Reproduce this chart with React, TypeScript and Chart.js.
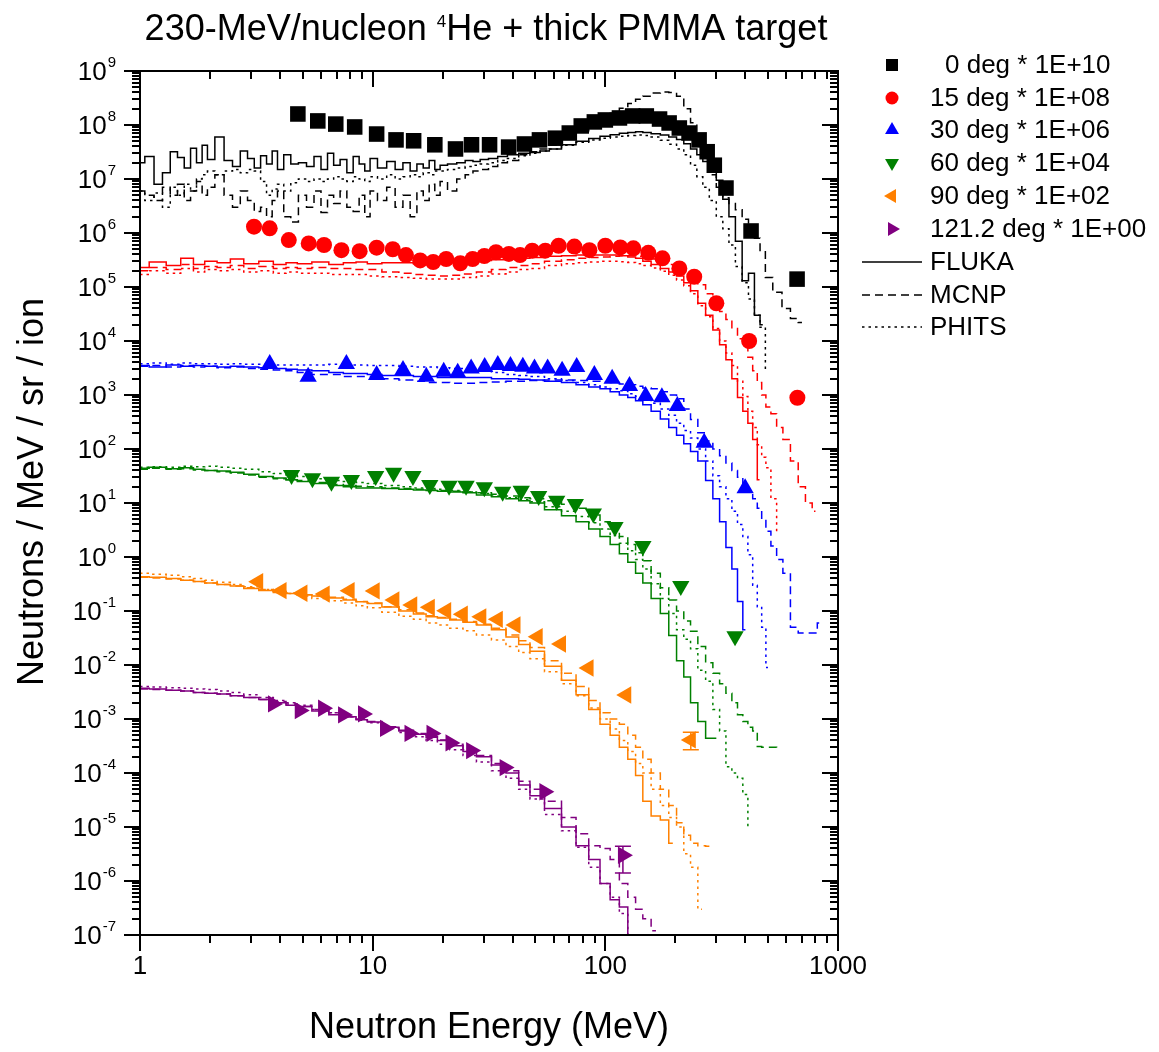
import React, { useEffect, useRef } from 'react';
import { Chart, registerables } from 'chart.js';

Chart.register(...registerables);

const W = 1159;
const H = 1052;
const FONT = '"Liberation Sans", Arial, Helvetica, sans-serif';

// ---------- axes ----------
const X_MIN = 1;
const X_MAX = 1000;
const Y_MIN = 1e-7;
const Y_MAX = 1e9;
const xTickValues = [1, 10, 100, 1000];
const xTickLabels = ['1', '10', '100', '1000'];
const yExponents = [9, 8, 7, 6, 5, 4, 3, 2, 1, 0, -1, -2, -3, -4, -5, -6, -7];

// ---------- legend / series meta ----------
const angleLabels = ['  0 deg * 1E+10', '15 deg * 1E+08', '30 deg * 1E+06', '60 deg * 1E+04', '90 deg * 1E+02', '121.2 deg * 1E+00'];
const angleColors = ['#000000', '#FF0000', '#0000FF', '#008000', '#FF8000', '#800080'];
const angleMarkers = ['rect', 'circle', 'triangle', 'triangle', 'triangle', 'triangle'];
const angleRotations = [0, 0, 0, 180, 270, 90];
const codeLabels = ['FLUKA', 'MCNP', 'PHITS'];
const codeDashes = [[], [8, 5], [2.5, 4]];

// ---------- experimental data ----------
const exp0E = [4.77, 5.81, 6.94, 8.37, 10.4, 12.6, 15.0, 18.5, 22.7, 26.6, 31.8, 38.4, 44.9, 52.1, 61.0, 70.0, 78.8, 89.7, 100, 115, 131, 150, 171, 188, 208, 229, 253, 274, 294, 330, 423, 667];
const exp0V = [1.6e8, 1.19e8, 1.04e8, 9.2e7, 6.8e7, 5.3e7, 5.1e7, 4.3e7, 3.6e7, 4.3e7, 4.3e7, 3.9e7, 4.45e7, 5.3e7, 5.7e7, 7.1e7, 9.6e7, 1.14e8, 1.24e8, 1.35e8, 1.47e8, 1.47e8, 1.29e8, 1.09e8, 8.8e7, 7.1e7, 5.3e7, 3.2e7, 1.8e7, 6.8e6, 1.09e6, 1.4e5];

const exp15E = [3.09, 3.61, 4.36, 5.31, 6.18, 7.34, 8.79, 10.4, 12.2, 13.9, 16.0, 18.2, 20.7, 23.8, 26.9, 30.2, 33.9, 38.5, 43.0, 48.5, 55.2, 63.0, 73.6, 85.4, 100, 116, 132, 153, 176, 208, 241, 300, 415, 669];
const exp15V = [1.31e6, 1.22e6, 7.4e5, 6.4e5, 6.0e5, 4.8e5, 4.6e5, 5.35e5, 5.0e5, 3.9e5, 3.1e5, 2.9e5, 3.3e5, 2.75e5, 3.3e5, 3.75e5, 4.4e5, 4.1e5, 3.9e5, 4.7e5, 4.7e5, 5.8e5, 5.6e5, 4.8e5, 5.8e5, 5.4e5, 5.2e5, 4.3e5, 3.4e5, 2.2e5, 1.55e5, 5.0e4, 1.0e4, 890];

const exp30E = [3.61, 5.28, 7.71, 10.4, 13.5, 17.0, 20.2, 23.2, 26.5, 30.3, 34.5, 39.1, 44.2, 49.6, 56.5, 65.2, 75.3, 89.7, 107, 127, 149, 175, 204, 266, 399];
const exp30V = [3.75e3, 2.18e3, 3.75e3, 2.35e3, 2.9e3, 2.18e3, 2.7e3, 2.59e3, 3.1e3, 3.3e3, 3.6e3, 3.45e3, 3.35e3, 3.1e3, 3.1e3, 2.8e3, 3.3e3, 2.35e3, 2.0e3, 1.47e3, 960, 906, 625, 131, 18.7];

const exp60E = [4.48, 5.51, 6.65, 8.10, 10.3, 12.3, 14.9, 17.6, 21.3, 25.2, 30.2, 36.2, 43.5, 51.7, 61.8, 74.3, 88.8, 110, 145, 211, 361];
const exp60V = [33, 28.7, 24.8, 26.6, 31.6, 36.4, 31.6, 21.5, 20.9, 20.9, 19.5, 16.2, 16.9, 13.5, 11.0, 9.6, 6.4, 3.6, 1.6, 0.29, 0.034];

const exp90E = [3.22, 4.06, 4.99, 6.22, 7.96, 10.2, 12.4, 14.8, 17.6, 20.7, 24.4, 29.3, 34.5, 41.1, 51.2, 64.5, 84.7, 123, 233];
const exp90V = [0.349, 0.238, 0.213, 0.206, 0.238, 0.235, 0.160, 0.129, 0.117, 0.101, 0.087, 0.078, 0.070, 0.055, 0.0334, 0.0245, 0.0088, 0.00278, 0.00041];

const exp121E = [3.73, 4.86, 6.12, 7.46, 9.09, 11.3, 14.4, 17.9, 21.6, 26.5, 36.9, 54.7, 119];
const exp121V = [0.0019, 0.00143, 0.00158, 0.00119, 0.00124, 0.00067, 0.00054, 0.00054, 0.00036, 0.00026, 0.000126, 0.000045, 0.0000030];

// visible error bars
const errE = [233, 119];
const errLo = [2.7e-4, 1.4e-6];
const errHi = [5.7e-4, 4.4e-6];
const errColor = ['#FF8000', '#800080'];

// ---------- simulation histograms ----------
const G0 = [1, 1.1, 1.2, 1.3, 1.4, 1.5, 1.6, 1.7, 1.8, 1.9, 2, 2.2, 2.4, 2.6, 2.8, 3, 3.2, 3.4, 3.6, 3.8, 4, 4.3, 4.6, 5, 5.4, 5.8, 6.2, 6.6, 7, 7.5, 8, 8.5, 9, 9.5, 10, 11, 12, 13, 14, 15, 16, 17, 18, 19, 20, 22, 24, 26, 28, 30, 33, 36, 40, 45, 50, 55, 60, 70, 80, 90, 100, 110, 120, 130, 140, 150, 165, 180, 195, 210, 225, 240, 255, 270, 290, 310, 330, 350, 375, 400, 425, 450, 475, 500, 550, 600, 650, 700];

const fluka0 = [2.0e7, 2.6e7, 8e6, 1.3e7, 3.2e7, 2.5e7, 1.6e7, 3.7e7, 2.0e7, 4.2e7, 2.3e7, 6.0e7, 2.2e7, 1.7e7, 3.3e7, 2.4e7, 1.6e7, 2.7e7, 1.9e7, 3.3e7, 1.5e7, 2.8e7, 1.9e7, 2.0e7, 1.7e7, 2.6e7, 1.5e7, 3.0e7, 1.8e7, 2.3e7, 1.3e7, 2.6e7, 1.9e7, 1.4e7, 2.4e7, 1.6e7, 2.1e7, 1.5e7, 2.0e7, 1.4e7, 1.9e7, 1.6e7, 2.2e7, 1.5e7, 1.8e7, 1.9e7, 2.0e7, 2.2e7, 2.1e7, 2.3e7, 2.4e7, 2.6e7, 2.8e7, 3.0e7, 3.1e7, 3.3e7, 3.6e7, 4.3e7, 5.0e7, 5.6e7, 6.2e7, 6.6e7, 7.0e7, 7.3e7, 7.5e7, 7.3e7, 6.9e7, 6.5e7, 6.0e7, 5.4e7, 4.5e7, 3.6e7, 2.8e7, 2.1e7, 1.4e7, 9.5e6, 4.2e6, 2.0e6, 7e5, 1.3e5, 1.8e5, 3.0e4, 2.0e4];
const mcnp0 = [6e6, 5e6, 4e6, 7e6, 5e6, 8e6, 4e6, 6e6, 9e6, 5e6, 7e6, 1.2e7, 5e6, 3e6, 6e6, 4e6, 2.5e6, 3e6, 2e6, 4e6, 6e6, 2e6, 1.6e6, 5e6, 3e6, 6e6, 2.4e6, 5e6, 3.5e6, 6e6, 3e6, 2.5e6, 5e6, 2e6, 6e6, 4e6, 7e6, 3e6, 5e6, 2e6, 6e6, 4e6, 8e6, 5e6, 9e6, 6e6, 1.0e7, 1.2e7, 1.4e7, 1.5e7, 1.7e7, 2.0e7, 2.2e7, 2.8e7, 3.2e7, 3.6e7, 4.2e7, 5.8e7, 7.8e7, 1.0e8, 1.3e8, 1.65e8, 2.05e8, 2.5e8, 3.0e8, 3.4e8, 3.9e8, 4.1e8, 4.0e8, 3.4e8, 2.0e8, 1.1e8, 5.5e7, 2.6e7, 1.2e7, 7e6, 4.5e6, 3.5e6, 2.7e6, 1.8e6, 1.2e6, 8e5, 4.5e5, 1.5e5, 8e4, 4e4, 2.6e4, 2.2e4];
const phits0 = [6e6, 4e6, 5.5e6, 3e6, 7e6, 5e6, 8e6, 6e6, 1.0e7, 1.2e7, 1.4e7, 1.2e7, 1.4e7, 1.5e7, 1.3e7, 1.5e7, 1.4e7, 9e6, 5e6, 6.5e6, 8e6, 6e6, 8.5e6, 1.0e7, 9e6, 1.0e7, 9e6, 1.0e7, 1.1e7, 1.0e7, 9e6, 1.1e7, 1.0e7, 9e6, 1.1e7, 1.0e7, 1.2e7, 1.0e7, 1.1e7, 1.2e7, 1.1e7, 1.3e7, 1.2e7, 1.4e7, 1.4e7, 1.5e7, 1.6e7, 1.7e7, 1.8e7, 1.9e7, 2.0e7, 2.2e7, 2.4e7, 2.7e7, 3.0e7, 3.3e7, 3.6e7, 4.2e7, 4.8e7, 5.3e7, 5.7e7, 6.0e7, 6.2e7, 6.4e7, 6.5e7, 6.4e7, 6.0e7, 5.2e7, 4.4e7, 3.6e7, 2.8e7, 1.8e7, 1.1e7, 7e6, 4e6, 2e6, 1.2e6, 6e5, 2.4e5, 1.2e5, 6e4, 3e4, 1.8e4, 3e3];

const G = [1, 1.2, 1.4, 1.6, 1.8, 2, 2.3, 2.6, 3, 3.5, 4, 4.5, 5, 6, 7, 8, 9, 10, 12, 14, 16, 18, 20, 23, 26, 30, 35, 40, 45, 50, 60, 70, 80, 90, 100, 110, 120, 130, 140, 150, 165, 180, 195, 210, 225, 240, 260, 280, 300, 320, 340, 360, 380, 400, 420, 440, 460, 480, 500, 530, 560, 600, 650, 700, 750, 800, 830];

const fluka15 = [2.3e5, 2.9e5, 2.5e5, 3.4e5, 2.6e5, 3.0e5, 2.8e5, 3.3e5, 2.7e5, 3.0e5, 2.6e5, 2.8e5, 2.7e5, 2.9e5, 2.6e5, 2.8e5, 2.9e5, 2.7e5, 2.8e5, 2.8e5, 2.7e5, 2.8e5, 2.9e5, 2.9e5, 3.0e5, 3.1e5, 3.2e5, 3.3e5, 3.4e5, 3.5e5, 3.7e5, 3.8e5, 3.9e5, 3.9e5, 3.9e5, 3.9e5, 3.8e5, 3.6e5, 3.4e5, 3.0e5, 2.6e5, 2.2e5, 1.9e5, 1.6e5, 1.2e5, 8.5e4, 5e4, 3e4, 1.6e4, 8.5e3, 4.5e3, 2e3, 900, 500, 300, 150, 27];
const mcnp15 = [2.0e5, 2.3e5, 2.1e5, 2.6e5, 2.2e5, 2.4e5, 2.3e5, 2.5e5, 2.2e5, 2.4e5, 2.2e5, 2.3e5, 2.2e5, 2.3e5, 2.2e5, 2.2e5, 2.1e5, 2.1e5, 1.9e5, 1.8e5, 1.7e5, 1.65e5, 1.6e5, 1.65e5, 1.75e5, 1.9e5, 2.1e5, 2.3e5, 2.5e5, 2.7e5, 3.0e5, 3.2e5, 3.4e5, 3.5e5, 3.6e5, 3.7e5, 3.8e5, 3.8e5, 3.7e5, 3.6e5, 3.3e5, 3.0e5, 2.6e5, 2.3e5, 1.9e5, 1.5e5, 1.1e5, 7.5e4, 5e4, 3.5e4, 2.5e4, 1.7e4, 1.1e4, 8e3, 5e3, 2.8e3, 1.7e3, 1e3, 600, 450, 250, 150, 60, 20, 10, 7];
const phits15 = [1.7e5, 2.0e5, 1.8e5, 2.2e5, 1.9e5, 2.1e5, 2.0e5, 2.1e5, 1.9e5, 2.0e5, 1.8e5, 1.9e5, 1.8e5, 1.8e5, 1.7e5, 1.7e5, 1.7e5, 1.6e5, 1.55e5, 1.5e5, 1.45e5, 1.4e5, 1.4e5, 1.4e5, 1.5e5, 1.6e5, 1.75e5, 1.9e5, 2.1e5, 2.2e5, 2.5e5, 2.7e5, 2.8e5, 2.9e5, 3.0e5, 3.0e5, 2.95e5, 2.85e5, 2.7e5, 2.5e5, 2.25e5, 1.95e5, 1.65e5, 1.35e5, 1.05e5, 7.5e4, 4.5e4, 2.8e4, 1.7e4, 1e4, 6e3, 3.5e3, 1.8e3, 940, 500, 250, 120, 70, 45, 12, 3];

const fluka30 = [3.5e3, 3.3e3, 3.6e3, 3.4e3, 3.5e3, 3.4e3, 3.3e3, 3.4e3, 3.3e3, 3.2e3, 3.1e3, 3.0e3, 2.9e3, 2.8e3, 2.6e3, 2.5e3, 2.5e3, 2.4e3, 2.3e3, 2.3e3, 2.2e3, 2.2e3, 2.1e3, 2.1e3, 2.1e3, 2.1e3, 2.0e3, 2.0e3, 1.95e3, 1.9e3, 1.8e3, 1.7e3, 1.55e3, 1.4e3, 1.3e3, 1.15e3, 1.0e3, 900, 780, 660, 500, 360, 250, 180, 125, 90, 60, 26, 12, 4.5, 1.5, 0.6, 0.15, 0.045];
const mcnp30 = [3.4e3, 3.5e3, 3.3e3, 3.5e3, 3.3e3, 3.4e3, 3.2e3, 3.3e3, 3.1e3, 3.0e3, 2.9e3, 2.8e3, 2.6e3, 2.4e3, 2.4e3, 2.2e3, 2.2e3, 2.2e3, 2.0e3, 1.9e3, 1.8e3, 1.7e3, 1.7e3, 1.65e3, 1.65e3, 1.7e3, 1.75e3, 1.8e3, 1.8e3, 1.85e3, 1.9e3, 1.9e3, 1.85e3, 1.8e3, 1.75e3, 1.7e3, 1.6e3, 1.55e3, 1.45e3, 1.35e3, 1.3e3, 1.15e3, 1.0e3, 850, 550, 350, 200, 140, 100, 75, 55, 40, 30, 20, 16, 12, 8, 5, 3, 1.6, 0.9, 0.5, 0.05, 0.039, 0.039, 0.039, 0.06];
const phits30 = [3.8e3, 3.9e3, 3.7e3, 3.9e3, 3.8e3, 3.8e3, 3.7e3, 3.8e3, 3.7e3, 3.7e3, 3.6e3, 3.6e3, 3.6e3, 3.6e3, 3.7e3, 3.6e3, 3.6e3, 3.5e3, 3.5e3, 3.4e3, 3.3e3, 3.3e3, 3.2e3, 3.1e3, 3.0e3, 2.8e3, 2.6e3, 2.4e3, 2.3e3, 2.2e3, 2.0e3, 1.85e3, 1.7e3, 1.55e3, 1.4e3, 1.3e3, 1.2e3, 1.05e3, 950, 850, 700, 550, 420, 300, 220, 160, 100, 60, 32, 20, 12, 7, 4, 2.4, 1.1, 0.3, 0.12, 0.05, 0.009];

const fluka60 = [44, 46, 43, 45, 42, 40, 39, 37, 34, 31, 29, 27, 25, 23, 21, 20, 19, 19, 18.5, 18, 17.5, 17, 16.5, 16, 15.5, 14, 13, 12, 11, 10, 7.5, 5.8, 4.5, 3.3, 2.4, 1.7, 1.15, 0.8, 0.5, 0.33, 0.17, 0.09, 0.035, 0.012, 0.006, 0.002, 9e-4, 4.4e-4, 4.4e-4];
const mcnp60 = [42, 44, 42, 43, 41, 40, 38, 36, 33, 30, 28, 27, 26, 24, 22, 21, 20.5, 20, 19, 18.5, 18, 17.5, 17, 16.5, 16, 15.5, 14.5, 13.5, 12.5, 12, 11, 9.5, 8, 6, 4.5, 3.3, 2.4, 1.7, 1.2, 0.85, 0.5, 0.27, 0.16, 0.1, 0.065, 0.042, 0.022, 0.011, 0.007, 0.0045, 0.003, 0.002, 0.0012, 9e-4, 7e-4, 6e-4, 3.1e-4, 3e-4, 3e-4, 3e-4, 2.9e-4];
const phits60 = [46, 47, 46, 48, 47, 48, 46, 44, 42, 38, 35, 33, 31, 28, 26, 25, 24, 23, 21, 20, 19, 18.5, 18, 17, 16, 15, 13.5, 12.5, 11.5, 10.5, 8.5, 7, 5.6, 4.3, 3.3, 2.5, 1.8, 1.3, 0.9, 0.6, 0.32, 0.17, 0.09, 0.045, 0.03, 0.02, 0.008, 0.005, 0.0015, 6e-4, 1.3e-4, 1e-4, 8e-5, 4e-5, 1e-5];

const fluka90 = [0.43, 0.42, 0.40, 0.37, 0.35, 0.33, 0.31, 0.29, 0.26, 0.24, 0.22, 0.21, 0.2, 0.19, 0.175, 0.16, 0.148, 0.138, 0.118, 0.1, 0.088, 0.078, 0.074, 0.068, 0.062, 0.055, 0.045, 0.033, 0.024, 0.018, 0.0095, 0.0052, 0.0028, 0.0015, 8e-4, 5e-4, 3e-4, 1.8e-4, 9e-5, 3e-5, 1.6e-5, 1.35e-5, 5e-6];
const mcnp90 = [0.42, 0.41, 0.39, 0.37, 0.35, 0.33, 0.31, 0.29, 0.27, 0.25, 0.23, 0.215, 0.2, 0.19, 0.18, 0.165, 0.15, 0.14, 0.12, 0.105, 0.092, 0.082, 0.076, 0.07, 0.064, 0.057, 0.048, 0.036, 0.028, 0.021, 0.012, 0.007, 0.004, 0.0022, 0.0013, 0.001, 8e-4, 5e-4, 3e-4, 1.8e-4, 1e-4, 5e-5, 2.5e-5, 1.2e-5, 7e-6, 5e-6, 4.5e-6, 4.4e-6];
const phits90 = [0.5, 0.48, 0.46, 0.43, 0.4, 0.37, 0.34, 0.31, 0.28, 0.25, 0.23, 0.21, 0.19, 0.17, 0.155, 0.14, 0.125, 0.115, 0.095, 0.08, 0.07, 0.06, 0.055, 0.048, 0.043, 0.036, 0.029, 0.022, 0.017, 0.013, 0.0075, 0.0045, 0.0027, 0.0016, 0.001, 6.5e-4, 4e-4, 2.5e-4, 1.5e-4, 1e-4, 5e-5, 2.5e-5, 1.5e-5, 1e-5, 3.2e-6, 1.8e-6, 3e-7];

const fluka121 = [3.7e-3, 3.6e-3, 3.4e-3, 3.3e-3, 3.1e-3, 3.0e-3, 2.9e-3, 2.7e-3, 2.5e-3, 2.3e-3, 2.0e-3, 1.8e-3, 1.7e-3, 1.4e-3, 1.2e-3, 1.1e-3, 9.7e-4, 8.8e-4, 7e-4, 6e-4, 5.2e-4, 4.6e-4, 4e-4, 3.2e-4, 2.5e-4, 2e-4, 1.4e-4, 1e-4, 6e-5, 3.8e-5, 2.2e-5, 1e-5, 4.5e-6, 2.5e-6, 9e-7, 4.5e-7, 3.3e-7, 5e-8];
const mcnp121 = [3.6e-3, 3.5e-3, 3.4e-3, 3.3e-3, 3.1e-3, 3.0e-3, 2.9e-3, 2.7e-3, 2.5e-3, 2.3e-3, 2.1e-3, 1.9e-3, 1.7e-3, 1.5e-3, 1.3e-3, 1.1e-3, 1e-3, 9e-4, 7.2e-4, 6.2e-4, 5.4e-4, 4.7e-4, 4.1e-4, 3.4e-4, 2.7e-4, 2.1e-4, 1.5e-4, 1.1e-4, 7e-5, 5e-5, 3e-5, 1.5e-5, 7.5e-6, 4.5e-6, 4e-6, 2.5e-6, 9e-7, 5e-7, 3e-7, 2e-7, 1.2e-7];
const phits121 = [4.0e-3, 3.9e-3, 3.8e-3, 3.7e-3, 3.6e-3, 3.5e-3, 3.3e-3, 3.1e-3, 2.8e-3, 2.5e-3, 2.2e-3, 2.0e-3, 1.8e-3, 1.5e-3, 1.3e-3, 1.1e-3, 9.5e-4, 8.5e-4, 6.8e-4, 5.6e-4, 4.7e-4, 4.0e-4, 3.4e-4, 2.7e-4, 2.1e-4, 1.6e-4, 1.1e-4, 8e-5, 5e-5, 3.3e-5, 1.7e-5, 8.5e-6, 4.2e-6, 1.8e-6, 9e-7, 5e-7, 2.5e-7, 1e-7];

const expE = [exp0E, exp15E, exp30E, exp60E, exp90E, exp121E];
const expV = [exp0V, exp15V, exp30V, exp60V, exp90V, exp121V];
const simGrids = [G0, G, G, G, G, G];
const simValues = [
  [fluka0, mcnp0, phits0],
  [fluka15, mcnp15, phits15],
  [fluka30, mcnp30, phits30],
  [fluka60, mcnp60, phits60],
  [fluka90, mcnp90, phits90],
  [fluka121, mcnp121, phits121],
];

const pts = (xs: number[], ys: number[]) => ys.map((y, i) => ({ x: xs[i], y }));

function markerPath(ctx: CanvasRenderingContext2D, kind: string, x: number, y: number, r: number, rot: number) {
  ctx.beginPath();
  if (kind === 'rect') {
    const s = r * Math.SQRT1_2;
    ctx.rect(x - s, y - s, 2 * s, 2 * s);
  } else if (kind === 'circle') {
    ctx.arc(x, y, r, 0, Math.PI * 2);
  } else {
    let rad = (rot * Math.PI) / 180;
    for (let k = 0; k < 3; k++) {
      const px = x + Math.sin(rad) * r;
      const py = y - Math.cos(rad) * r;
      if (k === 0) ctx.moveTo(px, py);
      else ctx.lineTo(px, py);
      rad += (2 * Math.PI) / 3;
    }
    ctx.closePath();
  }
}

const decorPlugin = {
  id: 'decor',
  beforeDraw(chart: any) {
    const ctx = chart.ctx as CanvasRenderingContext2D;
    ctx.save();
    ctx.fillStyle = '#ffffff';
    ctx.fillRect(0, 0, chart.width, chart.height);
    ctx.restore();
  },
  afterDraw(chart: any) {
    const ctx = chart.ctx as CanvasRenderingContext2D;
    const ca = chart.chartArea;
    const xs = chart.scales.x;
    const ys = chart.scales.y;
    ctx.save();

    // error bars
    ctx.lineWidth = 1.5;
    for (let i = 0; i < errE.length; i++) {
      const px = xs.getPixelForValue(errE[i]);
      const p1 = ys.getPixelForValue(errLo[i]);
      const p2 = ys.getPixelForValue(errHi[i]);
      ctx.strokeStyle = errColor[i];
      ctx.beginPath();
      ctx.moveTo(px, p1); ctx.lineTo(px, p2);
      ctx.moveTo(px - 8, p1); ctx.lineTo(px + 8, p1);
      ctx.moveTo(px - 8, p2); ctx.lineTo(px + 8, p2);
      ctx.stroke();
    }

    // frame
    ctx.strokeStyle = '#000';
    ctx.lineWidth = 2;
    ctx.strokeRect(ca.left, ca.top, ca.right - ca.left, ca.bottom - ca.top);

    // x ticks
    ctx.beginPath();
    for (let d = 1; d <= X_MAX; d *= 10) {
      for (let m = 1; m <= 9; m++) {
        const v = d * m;
        if (v > X_MAX) break;
        const px = Math.round(xs.getPixelForValue(v));
        const len = m === 1 ? 16 : 8;
        ctx.moveTo(px, ca.bottom); ctx.lineTo(px, ca.bottom + len);
        ctx.moveTo(px, ca.top); ctx.lineTo(px, ca.top + len);
      }
    }
    // y ticks
    for (let e = -7; e <= 9; e++) {
      for (let m = 1; m <= 9; m++) {
        const v = m * Math.pow(10, e);
        if (v > Y_MAX * 1.0001) break;
        const py = Math.round(ys.getPixelForValue(v));
        const len = m === 1 ? 16 : 8;
        ctx.moveTo(ca.left, py); ctx.lineTo(ca.left - len, py);
        ctx.moveTo(ca.right, py); ctx.lineTo(ca.right - len, py);
      }
    }
    ctx.stroke();

    ctx.fillStyle = '#000';
    // x tick labels
    ctx.font = `26px ${FONT}`;
    ctx.textAlign = 'center';
    ctx.textBaseline = 'alphabetic';
    xTickValues.forEach((v, i) => {
      ctx.fillText(xTickLabels[i], xs.getPixelForValue(v), 974);
    });

    // y tick labels: 10^n
    ctx.textAlign = 'left';
    yExponents.forEach((n) => {
      const py = ys.getPixelForValue(Math.pow(10, n));
      ctx.font = `26px ${FONT}`;
      const wBase = ctx.measureText('10').width;
      ctx.font = `15px ${FONT}`;
      const expTxt = String(n);
      const wExp = ctx.measureText(expTxt).width;
      const x0 = 116 - wBase - wExp - 1;
      ctx.font = `26px ${FONT}`;
      ctx.fillText('10', x0, py + 9);
      ctx.font = `15px ${FONT}`;
      ctx.fillText(expTxt, x0 + wBase + 1, py - 4);
    });

    // axis titles
    ctx.font = `36px ${FONT}`;
    ctx.textAlign = 'center';
    ctx.fillText('Neutron Energy (MeV)', (ca.left + ca.right) / 2, 1038);
    ctx.save();
    ctx.translate(43, 492);
    ctx.rotate(-Math.PI / 2);
    ctx.fillText('Neutrons / MeV / sr / ion', 0, 0);
    ctx.restore();

    // title with superscript
    const t1 = '230-MeV/nucleon ';
    const tSup = '4';
    const t2 = 'He + thick PMMA target';
    ctx.font = `36px ${FONT}`;
    const w1 = ctx.measureText(t1).width;
    const w2 = ctx.measureText(t2).width;
    ctx.font = `17px ${FONT}`;
    const wS = ctx.measureText(tSup).width;
    const total = w1 + wS + w2;
    let tx = 486 - total / 2;
    ctx.textAlign = 'left';
    ctx.font = `36px ${FONT}`;
    ctx.fillText(t1, tx, 40);
    tx += w1;
    ctx.font = `17px ${FONT}`;
    ctx.fillText(tSup, tx, 27);
    tx += wS;
    ctx.font = `36px ${FONT}`;
    ctx.fillText(t2, tx, 40);

    // legend
    const rowY = [65, 98, 130, 163, 196, 229];
    const legendR = [8.5, 6.5, 8, 8, 8, 8];
    ctx.font = `26px ${FONT}`;
    ctx.textBaseline = 'middle';
    angleLabels.forEach((lab, i) => {
      ctx.fillStyle = angleColors[i];
      markerPath(ctx, angleMarkers[i], 892, rowY[i], legendR[i], angleRotations[i]);
      ctx.fill();
      ctx.fillStyle = '#000';
      const txt = lab.trim();
      const xStart = lab.startsWith('  ') ? 945 : 930;
      ctx.fillText(txt, xStart, rowY[i] + 1);
    });
    const lineY = [262, 295, 327];
    codeLabels.forEach((lab, i) => {
      ctx.strokeStyle = '#000';
      ctx.lineWidth = 1.5;
      ctx.setLineDash(codeDashes[i]);
      ctx.beginPath();
      ctx.moveTo(862, lineY[i]);
      ctx.lineTo(922, lineY[i]);
      ctx.stroke();
      ctx.setLineDash([]);
      ctx.fillStyle = '#000';
      ctx.fillText(lab, 930, lineY[i] + 1);
    });

    ctx.restore();
  },
};

export default function App() {
  const canvasRef = useRef<HTMLCanvasElement | null>(null);

  useEffect(() => {
    const canvas = canvasRef.current;
    if (!canvas) return;

    const datasets: any[] = [];
    // experimental markers first (drawn on top)
    for (let a = 0; a < 6; a++) {
      datasets.push({
        label: angleLabels[a].trim(),
        data: pts(expE[a], expV[a]),
        showLine: false,
        pointStyle: angleMarkers[a],
        pointRadius: angleMarkers[a] === 'rect' ? 11 : angleMarkers[a] === 'circle' ? 8 : 10,
        pointRotation: angleRotations[a],
        pointBackgroundColor: angleColors[a],
        pointBorderColor: angleColors[a],
        pointBorderWidth: 0,
        borderColor: angleColors[a],
        backgroundColor: angleColors[a],
      });
    }
    for (let a = 0; a < 6; a++) {
      for (let c = 0; c < 3; c++) {
        datasets.push({
          label: `${codeLabels[c]} ${a}`,
          data: pts(simGrids[a], simValues[a][c]),
          showLine: true,
          pointRadius: 0,
          borderColor: angleColors[a],
          backgroundColor: angleColors[a],
          borderWidth: 1.5,
          borderDash: codeDashes[c],
          stepped: 'middle',
          fill: false,
          tension: 0,
        });
      }
    }

    const chart = new Chart(canvas, {
      type: 'line',
      data: { datasets },
      options: {
        animation: false,
        responsive: false,
        maintainAspectRatio: false,
        devicePixelRatio: 1,
        events: [],
        layout: { padding: { left: 140, right: W - 838, top: 71, bottom: H - 935 } },
        scales: {
          x: { type: 'logarithmic', min: X_MIN, max: X_MAX, display: false },
          y: { type: 'logarithmic', min: Y_MIN, max: Y_MAX, display: false },
        },
        plugins: {
          legend: { display: false },
          title: { display: false },
          tooltip: { enabled: false },
        },
      },
      plugins: [decorPlugin],
    });

    return () => {
      chart.destroy();
    };
  }, []);

  return (
    <div style={{ position: 'absolute', left: 0, top: 0, width: W, height: H, background: '#fff' }}>
      <canvas ref={canvasRef} width={W} height={H} style={{ display: 'block', width: W, height: H }} />
    </div>
  );
}
